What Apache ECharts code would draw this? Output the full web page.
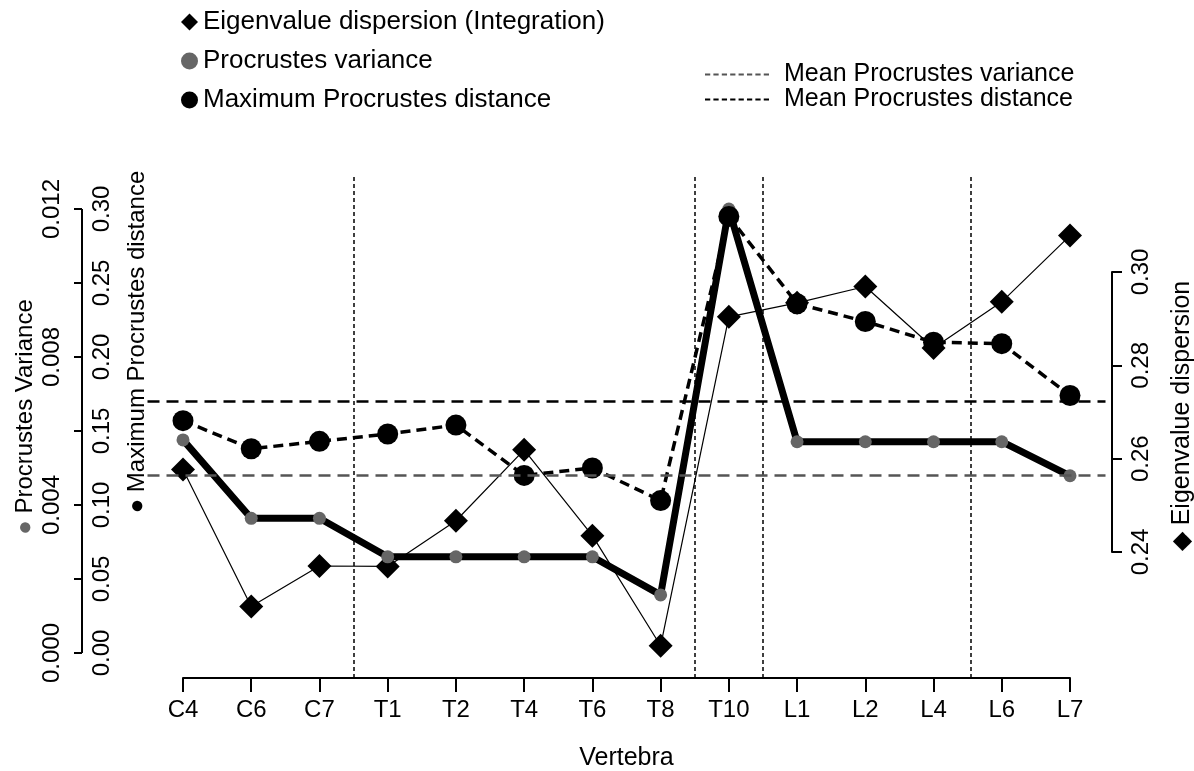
<!DOCTYPE html>
<html>
<head>
<meta charset="utf-8">
<title>Vertebra integration</title>
<script src="https://cdn.jsdelivr.net/npm/echarts@6/dist/echarts.min.js"></script>
<style>
  html, body { margin: 0; padding: 0; background: #fff; }
  #chart { width: 1194px; height: 771px; }
</style>
</head>
<body>
<div id="chart"></div>
<script>
// values
const vertebrae = ['C4', 'C6', 'C7', 'T1', 'T2', 'T4', 'T6', 'T8', 'T10', 'L1', 'L2', 'L4', 'L6', 'L7'];
const procrustesVariance = [0.00576, 0.00364, 0.00364, 0.0026, 0.0026, 0.0026, 0.0026, 0.00157, 0.0120, 0.00571, 0.00571, 0.00571, 0.00571, 0.00479];
const maxProcrustesDistance = [0.157, 0.138, 0.143, 0.148, 0.154, 0.120, 0.125, 0.103, 0.295, 0.236, 0.224, 0.210, 0.209, 0.174];
const eigenvalueDispersion = [0.2577, 0.2283, 0.2370, 0.2369, 0.2467, 0.2619, 0.2435, 0.2199, 0.2904, 0.2934, 0.2969, 0.2837, 0.2936, 0.3078];
const meanVariance = 0.0048;
const meanDistance = 0.170;
// region boundaries between vertebrae (C7|T1, T8|T10, T10|L1, L4|L6)
const regionBreaks = [2.5, 7.5, 8.5, 11.55];
const distanceTicks = [0, 0.05, 0.10, 0.15, 0.20, 0.25, 0.30];

const FONT = '"Liberation Sans", Arial, Helvetica, sans-serif';
const distMax = 0.30, varMax = 0.012;
const varToDist = distMax / varMax;

// data box and plot box (R style axes sit apart from the data)
const dataLeft = 183, dataRight = 1070, dataTop = 209, dataBottom = 653;
const leftOffset = 101;
const pxPerDist = (dataBottom - dataTop) / distMax;
const boxLo = -(678 - dataBottom) / pxPerDist;
const boxHi = distMax + (dataTop - 177) / pxPerDist;
const xPad = 0.52;

const pairs = arr => arr.map((v, i) => [i, v]);
const dashIcon = 'path://M0,0h5v2h-5z M8,0h5v2h-5z M16,0h5v2h-5z M24,0h5v2h-5z M32,0h5v2h-5z M40,0h5v2h-5z M48,0h5v2h-5z M56,0h5v2h-5z';

const line = () => ({ show: true, onZero: false, lineStyle: { color: '#000', width: 2 } });
const tick = len => ({ show: true, length: len, lineStyle: { color: '#000', width: 2 } });
const label = { color: '#000', fontSize: 24, fontFamily: FONT };

const chart = echarts.init(document.getElementById('chart'));
chart.setOption({
  animation: false,
  backgroundColor: '#fff',
  textStyle: { fontFamily: FONT, color: '#000' },
  legend: [
    {
      orient: 'vertical', left: 181, top: 9, itemGap: 13, padding: 0,
      itemWidth: 17, itemHeight: 17, selectedMode: false,
      textStyle: { fontSize: 26, color: '#000', fontFamily: FONT },
      data: [
        { name: 'Eigenvalue dispersion (Integration)', icon: 'diamond' },
        { name: 'Procrustes variance', icon: 'circle' },
        { name: 'Maximum Procrustes distance', icon: 'circle' }
      ]
    },
    {
      orient: 'vertical', left: 705, top: 62, itemGap: 0, padding: 0,
      itemWidth: 64, itemHeight: 3, selectedMode: false,
      textStyle: { fontSize: 25, color: '#000', fontFamily: FONT, padding: [0, 0, 0, 10] },
      data: [
        { name: 'Mean Procrustes variance', icon: dashIcon },
        { name: 'Mean Procrustes distance', icon: dashIcon }
      ]
    }
  ],
  grid: [
    { left: 147.5, right: 1194 - 1105.5, top: 177, bottom: 771 - 678, outerBoundsMode: 'none' },
    { left: dataLeft, right: 1194 - dataRight, top: dataTop, bottom: 771 - dataBottom, outerBoundsMode: 'none' },
    { left: dataLeft, right: 1194 - dataRight, top: 272, bottom: 771 - 552, outerBoundsMode: 'none' }
  ],
  xAxis: [
    { gridIndex: 0, type: 'value', min: -xPad, max: vertebrae.length - 1 + xPad, show: false },
    {
      gridIndex: 1, type: 'value', min: 0, max: vertebrae.length - 1, interval: 1,
      position: 'bottom', offset: 25,
      axisLine: line(),
      axisTick: tick(14),
      axisLabel: Object.assign({}, label, { margin: 20, formatter: v => vertebrae[v] || '' }),
      splitLine: { show: false },
      name: 'Vertebra', nameLocation: 'middle', nameGap: 68,
      nameTextStyle: { fontSize: 25, color: '#000', fontFamily: FONT }
    },
    { gridIndex: 2, type: 'value', min: 0, max: vertebrae.length - 1, show: false }
  ],
  yAxis: [
    { gridIndex: 0, type: 'value', min: boxLo, max: boxHi, show: false },
    {
      gridIndex: 1, type: 'value', min: 0, max: varMax, interval: 0.004,
      position: 'left', offset: leftOffset,
      axisLine: { show: false }, axisTick: { show: false },
      axisLabel: Object.assign({}, label, { rotate: 90, margin: 18, formatter: v => v.toFixed(3) }),
      splitLine: { show: false },
      name: '{g|●} Procrustes Variance', nameLocation: 'middle', nameGap: 45, nameMoveOverlap: false,
      nameTextStyle: {
        fontSize: 24, color: '#000', fontFamily: FONT, padding: [0, 0, 0, 28],
        rich: { g: { color: '#666', fontSize: 24, fontFamily: FONT } }
      }
    },
    {
      gridIndex: 1, type: 'value', min: 0, max: distMax, interval: 0.05,
      position: 'left', offset: leftOffset,
      axisLine: { show: false }, axisTick: { show: false },
      axisLabel: Object.assign({}, label, { inside: true, rotate: 90, margin: 8, formatter: v => v.toFixed(2) }),
      splitLine: { show: false },
      name: '● Maximum Procrustes distance', nameLocation: 'middle', nameGap: -67, nameMoveOverlap: false,
      nameTextStyle: { fontSize: 24, color: '#000', fontFamily: FONT, padding: [0, 0, 0, 178] }
    },
    {
      gridIndex: 2, type: 'value', min: 0.24, max: 0.30, interval: 0.02,
      position: 'right', offset: 42,
      axisLine: line(),
      axisTick: tick(10),
      axisLabel: Object.assign({}, label, { rotate: 90, margin: 17, formatter: v => v.toFixed(2) }),
      splitLine: { show: false },
      name: '◆ Eigenvalue dispersion', nameLocation: 'middle', nameGap: 58, nameMoveOverlap: false,
      nameTextStyle: { fontSize: 25, color: '#000', fontFamily: FONT, padding: [0, 8, 0, 0] }
    }
  ],
  series: [
    {
      name: 'regions', type: 'line', xAxisIndex: 0, yAxisIndex: 0, data: [],
      markLine: {
        silent: true, symbol: 'none', label: { show: false },
        lineStyle: { color: '#000', width: 1.5, type: [4, 3] },
        data: regionBreaks.map(x => ({ xAxis: x }))
      }
    },
    {
      name: 'Mean Procrustes variance', type: 'line', xAxisIndex: 0, yAxisIndex: 0, data: [],
      itemStyle: { color: '#555' },
      markLine: {
        silent: true, symbol: 'none', label: { show: false },
        lineStyle: { color: '#555', width: 2.5, type: [12, 7] },
        data: [{ yAxis: meanVariance * varToDist }]
      }
    },
    {
      name: 'Mean Procrustes distance', type: 'line', xAxisIndex: 0, yAxisIndex: 0, data: [],
      itemStyle: { color: '#000' },
      markLine: {
        silent: true, symbol: 'none', label: { show: false },
        lineStyle: { color: '#000', width: 2.5, type: [12, 7] },
        data: [{ yAxis: meanDistance }]
      }
    },
    {
      name: 'Eigenvalue dispersion (Integration)', type: 'line', xAxisIndex: 2, yAxisIndex: 3,
      data: pairs(eigenvalueDispersion), clip: false,
      symbol: 'diamond', symbolSize: 24,
      itemStyle: { color: '#000', borderWidth: 0 },
      lineStyle: { color: '#000', width: 1.2 }
    },
    {
      name: 'Procrustes variance', type: 'line', xAxisIndex: 1, yAxisIndex: 1,
      data: pairs(procrustesVariance),
      symbol: 'circle', symbolSize: 13,
      itemStyle: { color: '#666', borderWidth: 0 },
      lineStyle: { color: '#000', width: 7 }
    },
    {
      name: 'Maximum Procrustes distance', type: 'line', xAxisIndex: 1, yAxisIndex: 2,
      data: pairs(maxProcrustesDistance),
      symbol: 'circle', symbolSize: 21,
      itemStyle: { color: '#000', borderWidth: 0 },
      lineStyle: { color: '#000', width: 3.5, type: [10, 6] }
    }
  ]
});

// shared left axis line and its ticks, at the offset position of the two left axes
const axisX = dataLeft - leftOffset;
const yPix = v => {
  const p = chart.convertToPixel({ xAxisIndex: 1, yAxisIndex: 2 }, [0, v]);
  const y = Array.isArray(p) ? p[1] : p;
  return isFinite(y) ? y : dataBottom - v * pxPerDist;
};
const stroke = { stroke: '#000', lineWidth: 2, fill: null };
chart.setOption({
  graphic: {
    elements: [
      { type: 'line', z: 100, silent: true, shape: { x1: axisX, y1: yPix(distMax), x2: axisX, y2: yPix(0) }, style: stroke }
    ].concat(distanceTicks.map(t => ({
      type: 'line', z: 100, silent: true,
      shape: { x1: axisX - 8, y1: yPix(t), x2: axisX, y2: yPix(t) }, style: stroke
    })))
  }
});
</script>
</body>
</html>
